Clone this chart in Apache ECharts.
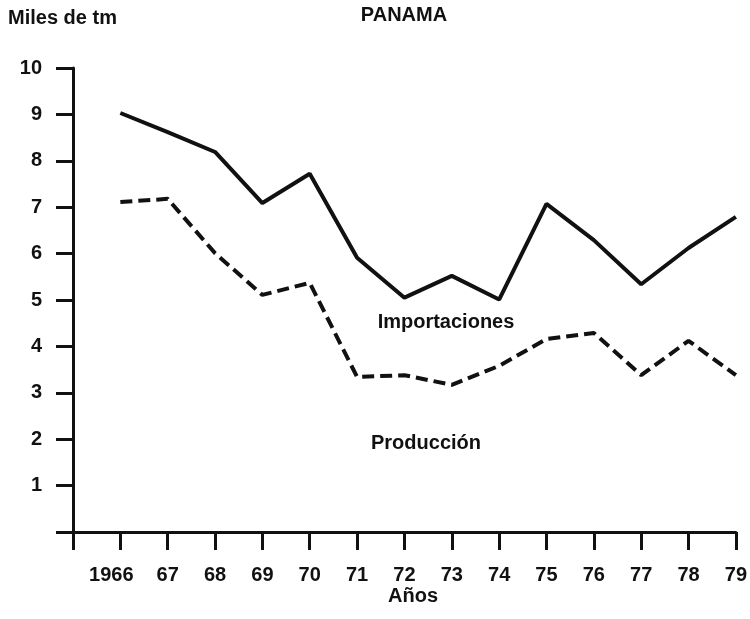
<!DOCTYPE html>
<html>
<head>
<meta charset="utf-8">
<script src="https://cdn.jsdelivr.net/npm/echarts@6/dist/echarts.min.js"></script>
<style>
  html, body { margin: 0; padding: 0; background: #fff; }
  #chart { width: 750px; height: 619px; }
</style>
</head>
<body>
<div id="chart"></div>
<script>
"use strict";

// years on the x axis (1965 is the empty start of the axis)
var years = [1966, 1967, 1968, 1969, 1970, 1971, 1972, 1973, 1974, 1975, 1976, 1977, 1978, 1979];
var yearLabels = ["1966", "67", "68", "69", "70", "71", "72", "73", "74", "75", "76", "77", "78", "79"];

// miles de tm
var importaciones = [9.03, 8.62, 8.19, 7.09, 7.72, 5.91, 5.05, 5.52, 5.01, 7.07, 6.29, 5.34, 6.12, 6.79];
var produccion = [7.11, 7.18, 6.01, 5.11, 5.37, 3.34, 3.38, 3.17, 3.58, 4.16, 4.29, 3.38, 4.12, 3.38];

var yTicks = [0, 1, 2, 3, 4, 5, 6, 7, 8, 9, 10];

function pairs(vals) {
    return years.map(function (y, i) { return [y, vals[i]]; });
}

var FONT = '"Liberation Sans", Arial, sans-serif';
var INK = "#111";

function label(text, x, y, align) {
    return {
        type: "text",
        x: x,
        y: y,
        style: {
            text: text,
            font: "bold 20px " + FONT,
            fill: INK,
            align: align || "center",
            verticalAlign: "middle"
        }
    };
}

function panama() {
    var e = {
        animation: false,
        grid: {
            left: 73,
            right: 13,
            top: 68,
            bottom: 87
        },
        xAxis: {
            type: "value",
            min: 1965,
            max: 1979,
            interval: 1,
            axisLine: {
                onZero: false,
                lineStyle: { color: INK, width: 3 }
            },
            axisTick: {
                length: 18,
                lineStyle: { color: INK, width: 3 }
            },
            axisLabel: {
                margin: 33,
                color: INK,
                fontSize: 20,
                fontWeight: "bold",
                fontFamily: FONT,
                formatter: function (v) {
                    var i = years.indexOf(v);
                    if (i < 0) return "";
                    // the first (4-digit) label sits a little left of its tick
                    return i === 0 ? "{first|" + yearLabels[i] + "}" : yearLabels[i];
                },
                rich: {
                    first: {
                        color: INK,
                        fontSize: 20,
                        fontWeight: "bold",
                        fontFamily: FONT,
                        padding: [0, 18, 0, 0]
                    }
                }
            },
            splitLine: { show: false }
        },
        yAxis: {
            type: "value",
            min: yTicks[0],
            max: yTicks[yTicks.length - 1],
            interval: 1,
            axisLine: {
                show: true,
                lineStyle: { color: INK, width: 3 }
            },
            axisTick: {
                show: true,
                length: 17,
                lineStyle: { color: INK, width: 3 }
            },
            axisLabel: {
                margin: 31,
                color: INK,
                fontSize: 20,
                fontWeight: "bold",
                fontFamily: FONT,
                formatter: function (v) {
                    return v === 0 ? "" : String(v);
                }
            },
            splitLine: { show: false }
        },
        series: [{
            name: "Importaciones",
            type: "line",
            symbol: "none",
            lineStyle: { color: INK, width: 4 },
            data: pairs(importaciones)
        }, {
            name: "Producción",
            type: "line",
            symbol: "none",
            lineStyle: { color: INK, width: 4, type: [12, 6] },
            data: pairs(produccion)
        }],
        graphic: [
            label("Miles de tm", 8, 18, "left"),
            label("PANAMA", 404, 15),
            label("Importaciones", 446, 322),
            label("Producción", 426, 443),
            label("Años", 413, 596)
        ]
    };
    echarts.init(document.getElementById("chart")).setOption(e);
}

panama();
</script>
</body>
</html>
